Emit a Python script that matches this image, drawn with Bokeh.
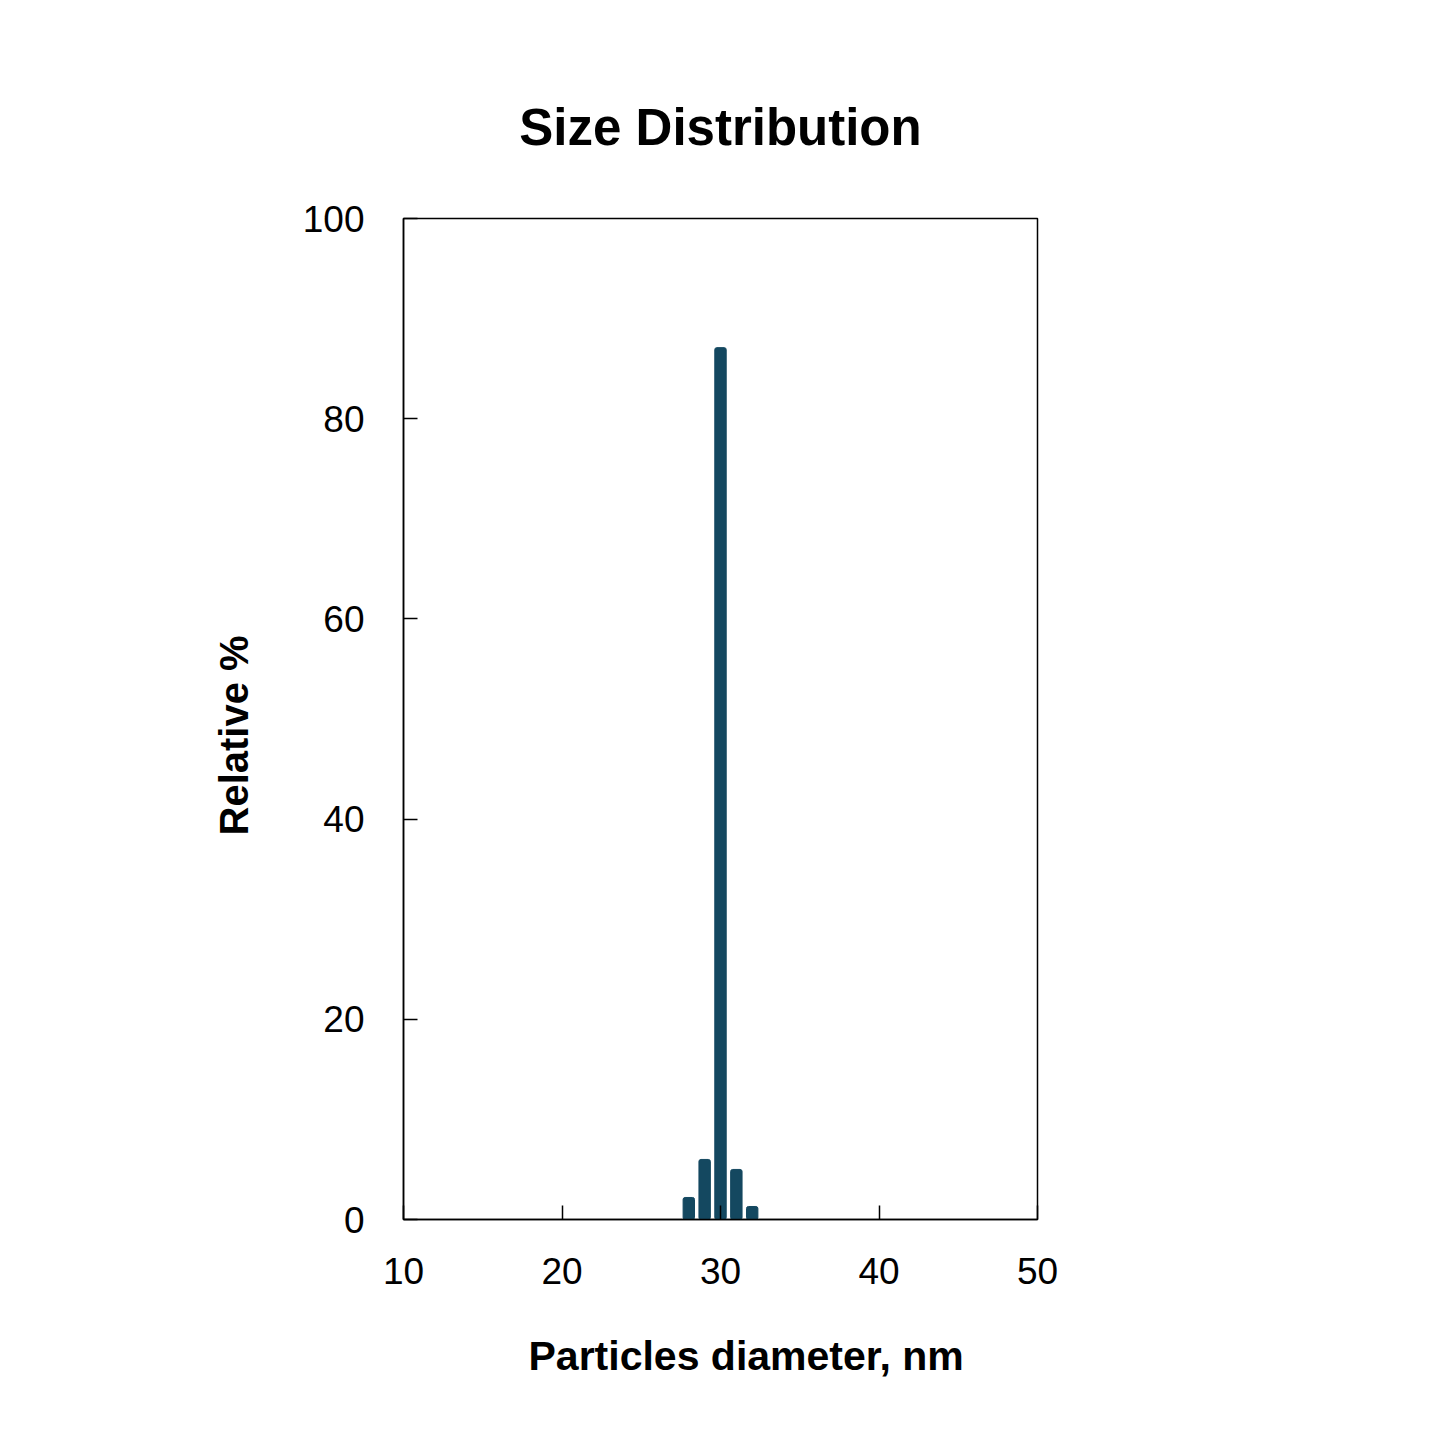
from bokeh.embed import file_html
from bokeh.models import ColumnDataSource, FixedTicker, Range1d, Title
from bokeh.plotting import figure
from bokeh.resources import INLINE

diameters = [28, 29, 30, 31, 32]
relative = [2.2, 6.0, 87.1, 5.0, 1.3]
x_ticks = [10, 20, 30, 40, 50]
y_ticks = [0, 20, 40, 60, 80, 100]

bar_color = "#144860"
font = "Liberation Sans"

p = figure(
    width=1437,
    height=1437,
    x_range=Range1d(10, 50),
    y_range=Range1d(0, 100),
    output_backend="svg",
    toolbar_location=None,
    min_border_left=403,
    min_border_right=400,
    min_border_top=218,
    min_border_bottom=218,
)
p.grid.visible = False
p.outline_line_color = "black"
p.outline_line_width = 1.5

src = ColumnDataSource(data={"d": diameters, "rel": relative})
p.vbar(x="d", top="rel", bottom=0, width=0.72, source=src,
       fill_color=bar_color, line_color=bar_color, border_radius=2)

for ax, ticks in ((p.xaxis[0], x_ticks), (p.yaxis[0], y_ticks)):
    ax.ticker = FixedTicker(ticks=ticks)
    ax.major_tick_in = 14
    ax.major_tick_out = 0
    ax.minor_tick_in = 0
    ax.minor_tick_out = 0
    ax.axis_line_color = "black"
    ax.axis_line_width = 1.5
    ax.major_tick_line_width = 1.5
    ax.major_label_text_font = font
    ax.major_label_text_font_size = "37px"
    ax.major_label_text_color = "black"
p.xaxis.major_label_standoff = 38
p.yaxis.major_label_standoff = 39

# title and axis labels as titles, so they can be shifted off-centre
p.add_layout(Title(text="Size Distribution", align="center", standoff=126,
                   text_font=font, text_font_size="51px", text_font_style="bold",
                   text_color="black"), "above")
p.add_layout(Title(text="Particles diameter, nm", align="left", offset=125, standoff=89,
                   text_font=font, text_font_size="41px", text_font_style="bold",
                   text_color="black"), "below")
p.add_layout(Title(text="Relative %", align="left", offset=384, standoff=87,
                   text_font=font, text_font_size="40px", text_font_style="bold",
                   text_color="black"), "left")

open("out.html", "w").write(file_html(p, INLINE))
